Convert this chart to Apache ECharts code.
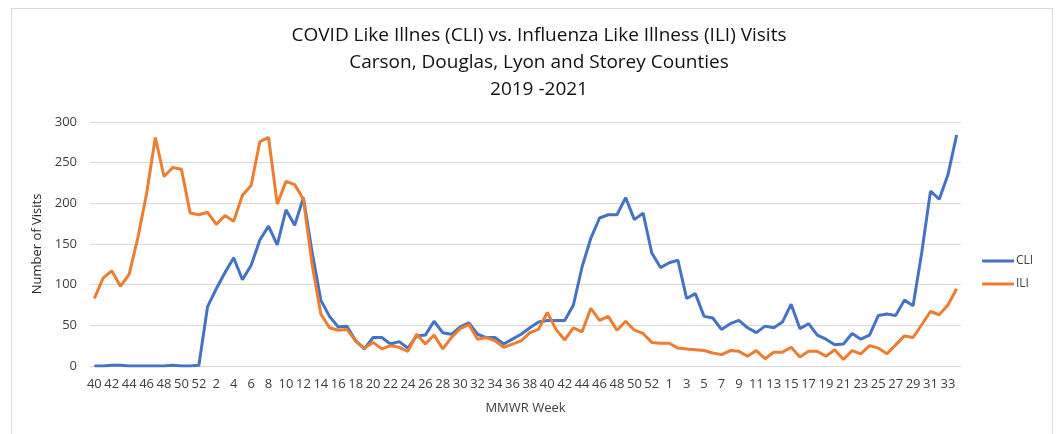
<!DOCTYPE html>
<html>
<head>
<meta charset="utf-8">
<script src="https://cdn.jsdelivr.net/npm/echarts@6/dist/echarts.min.js"></script>
<style>html,body{margin:0;padding:0;background:#fff;}#c{width:1062px;height:434px;}</style>
</head>
<body>
<div id="c"></div>
<script>
// MMWR weeks: 2019 wk40-52, 2020 wk1-53, 2021 wk1-34
const weeks2019 = [40,41,42,43,44,45,46,47,48,49,50,51,52];
const weeks2020 = [1,2,3,4,5,6,7,8,9,10,11,12,13,14,15,16,17,18,19,20,21,22,23,24,25,26,27,28,29,30,31,32,33,34,35,36,37,38,39,40,41,42,43,44,45,46,47,48,49,50,51,52,53];
const weeks2021 = [1,2,3,4,5,6,7,8,9,10,11,12,13,14,15,16,17,18,19,20,21,22,23,24,25,26,27,28,29,30,31,32,33,34];
const categories = weeks2019.concat(weeks2020, weeks2021).map(String);

const cliValues = [
  0,0,1,1,0,0,0,0,0,1,0,0,1,
  73,95,115,133,106,124,155,172,149,192,173,207,140,81,61,48,49,31,21,35,35,27,30,22,37,38,55,41,39,48,53,39,35,35,27,33,39,47,54,56,56,56,75,122,157,182,186,186,207,180,188,139,121,
  127,130,83,89,61,59,45,52,56,47,41,49,47,54,76,46,52,38,33,26,27,40,33,38,62,64,62,81,74,140,215,205,235,284
];
const iliValues = [
  83,108,117,98,113,158,212,281,233,244,242,188,186,
  189,174,185,178,210,222,276,281,199,227,223,205,125,64,47,44,45,31,22,29,21,25,23,18,39,27,38,21,35,46,51,33,35,31,23,27,31,41,45,66,45,32,47,42,71,56,61,44,55,44,40,29,28,
  28,22,21,20,19,16,14,19,18,12,19,9,17,17,23,11,18,18,12,20,8,19,15,25,22,15,26,37,35,51,67,63,75,95
];
const yTicks = [0,50,100,150,200,250,300];

const chart = echarts.init(document.getElementById('c'), null, {renderer:'canvas'});
const font = '"Open Sans", "Liberation Sans", sans-serif';
chart.setOption({
  backgroundColor:'#fff',
  animation:false,
  graphic:[{type:'rect', shape:{x:11.5,y:8.5,width:1041,height:440}, style:{fill:'none', stroke:'#d9d9d9', lineWidth:1}, silent:true}],
  title:{
    text:'COVID Like Illnes (CLI) vs. Influenza Like Illness (ILI) Visits\nCarson, Douglas, Lyon and Storey Counties\n2019 -2021',
    left:534, top:17, textAlign:'center',
    textStyle:{fontFamily:font, fontSize:19, fontWeight:'normal', color:'#111', lineHeight:27}
  },
  legend:{
    orient:'vertical', left:977, top:250, itemWidth:32, itemHeight:3, itemGap:11,
    icon:'rect',
    textStyle:{fontFamily:font, fontSize:12, color:'#404040', padding:[0,0,0,-3]},
    data:['CLI','ILI']
  },
  grid:{left:90, right:101, top:122, bottom:68},
  xAxis:{
    type:'category', data:categories, boundaryGap:true,
    name:'MMWR Week', nameLocation:'middle', nameGap:36,
    nameTextStyle:{fontFamily:font, fontSize:13, color:'#404040'},
    axisLine:{lineStyle:{color:'#d9d9d9'}},
    axisTick:{show:false},
    axisLabel:{interval:1, fontFamily:font, fontSize:13, color:'#404040', margin:12}
  },
  yAxis:{
    type:'value', min:0, max:300, interval:50,
    name:'Number of Visits', nameLocation:'middle', nameGap:34,
    nameTextStyle:{fontFamily:font, fontSize:13, color:'#262626'},
    axisLine:{show:false}, axisTick:{show:false},
    splitLine:{lineStyle:{color:'#d9d9d9'}},
    axisLabel:{fontFamily:font, fontSize:13, color:'#404040', margin:13,
      formatter:(v)=> yTicks.includes(v) ? String(v) : ''}
  },
  series:[
    {name:'CLI', type:'line', data:cliValues, symbol:'none', lineStyle:{color:'#4472C4', width:3}, itemStyle:{color:'#4472C4'}},
    {name:'ILI', type:'line', data:iliValues, symbol:'none', lineStyle:{color:'#ED7D31', width:3}, itemStyle:{color:'#ED7D31'}}
  ]
});
</script>
</body>
</html>
